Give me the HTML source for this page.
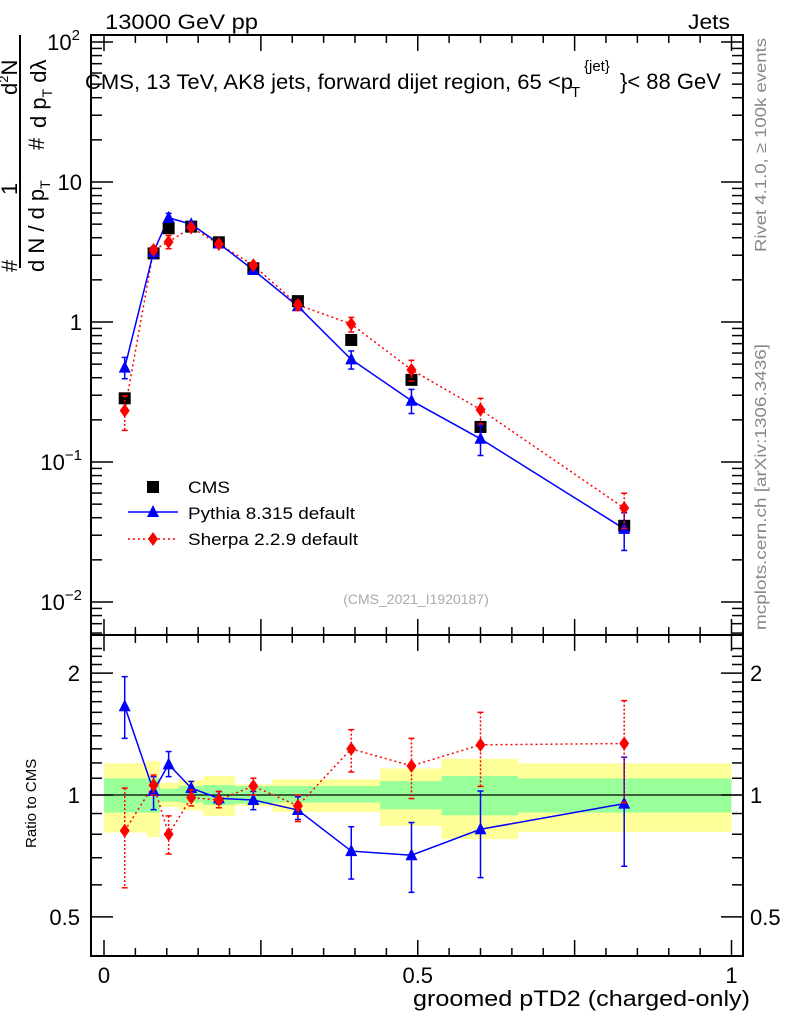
<!DOCTYPE html>
<html><head><meta charset="utf-8"><style>
body{margin:0;background:#fff;width:786px;height:1024px;overflow:hidden}
svg{font-family:"Liberation Sans",sans-serif}
</style></head><body>
<svg id="c" width="786" height="1024" xmlns="http://www.w3.org/2000/svg">
<text x="105" y="29" font-size="21" textLength="153" lengthAdjust="spacingAndGlyphs">13000 GeV pp</text>
<text x="688" y="29" font-size="21" textLength="42" lengthAdjust="spacingAndGlyphs">Jets</text>
<text x="85" y="89" font-size="21" textLength="488" lengthAdjust="spacingAndGlyphs">CMS, 13 TeV, AK8 jets, forward dijet region, 65 &lt;p</text>
<text x="571" y="97" font-size="15">T</text>
<text x="584" y="71" font-size="15">{jet}</text>
<text x="620" y="89" font-size="22">}&lt; 88 GeV</text>
<text transform="translate(766,252) rotate(-90)" font-size="16" fill="#888" textLength="214" lengthAdjust="spacingAndGlyphs">Rivet 4.1.0, ≥ 100k events</text>
<text transform="translate(766,630) rotate(-90)" font-size="16" fill="#888" textLength="286" lengthAdjust="spacingAndGlyphs">mcplots.cern.ch [arXiv:1306.3436]</text>
<text x="416" y="604" font-size="14" fill="#aaa" text-anchor="middle">(CMS_2021_I1920187)</text>
<text x="413" y="1006" font-size="22" textLength="337" lengthAdjust="spacingAndGlyphs">groomed pTD2 (charged-only)</text>
<text transform="translate(36,848) rotate(-90)" font-size="15">Ratio to CMS</text>
<g font-size="22">
<line x1="20" y1="268" x2="20" y2="35" stroke="#000" stroke-width="2"/>
<text transform="translate(17,272) rotate(-90)">#</text>
<text transform="translate(17,195) rotate(-90)">1</text>
<text transform="translate(44,272) rotate(-90)">d N / d p<tspan font-size="14" dy="6">T</tspan></text>
<text transform="translate(17,95) rotate(-90)">d<tspan font-size="13" dy="-9">2</tspan><tspan dy="9">N</tspan></text>
<text transform="translate(44,150) rotate(-90)">#</text>
<text transform="translate(46,128) rotate(-90)">d p<tspan font-size="14" dy="6">T</tspan><tspan dy="-6"> dλ</tspan></text>
</g>
<g id="main"></g>
<g id="ratio"></g>
</svg>
<script>
const xs=[0.033,0.079,0.103,0.139,0.183,0.238,0.309,0.394,0.490,0.600,0.829];
const cms=[0.285,3.09,4.67,4.8,3.71,2.42,1.41,0.744,0.386,0.178,0.035];
const pyR=[1.656,1.023,1.19,1.04,0.981,0.972,0.918,0.727,0.710,0.823,0.952];
const pyLo=[1.38,0.92,1.11,1.0,0.95,0.92,0.87,0.62,0.575,0.625,0.667];
const pyHi=[1.96,1.11,1.28,1.08,1.02,1.02,0.99,0.835,0.855,1.023,1.24];
const shR=[0.816,1.058,0.8,0.985,0.972,1.052,0.94,1.30,1.18,1.33,1.34];
const shLo=[0.59,1.0,0.715,0.94,0.93,1.0,0.86,1.14,0.98,1.05,0.957];
const shHi=[1.04,1.12,0.888,1.03,1.02,1.1,1.0,1.45,1.38,1.6,1.71];
const edges=[0,0.068,0.089,0.119,0.158,0.209,0.268,0.44,0.538,0.66,1.0];
const yelHi=[1.197,1.212,1.072,1.089,1.114,1.062,1.093,1.163,1.228,1.197];
const yelLo=[0.808,0.788,0.934,0.917,0.888,0.939,0.908,0.839,0.778,0.811];
const grnHi=[1.099,1.099,1.036,1.052,1.058,1.052,1.052,1.082,1.114,1.099];
const grnLo=[0.905,0.905,0.963,0.958,0.945,0.952,0.958,0.922,0.891,0.905];
const NS="http://www.w3.org/2000/svg";
const L=91,R=743,T=35,M=635,B=956;
const X=v=>104+v*627.5;
const Y=v=>322-140*Math.log10(v);
const YR=v=>795-405*Math.log10(v);
function mk(p,t,a){const e=document.createElementNS(NS,t);for(const k in a)e.setAttribute(k,a[k]);p.appendChild(e);return e;}
const main=document.getElementById('main'),ratio=document.getElementById('ratio');
for(let i=0;i<yelHi.length;i++){
 let r=mk(ratio,'rect',{x:X(edges[i]),y:YR(yelHi[i]),width:X(edges[i+1])-X(edges[i]),height:YR(yelLo[i])-YR(yelHi[i]),fill:'#ffff99'});
 
 
}
for(let i=0;i<grnHi.length;i++){
 let r=mk(ratio,'rect',{x:X(edges[i]),y:YR(grnHi[i]),width:X(edges[i+1])-X(edges[i]),height:YR(grnLo[i])-YR(grnHi[i]),fill:'#99ff99'});
 
 
}
mk(ratio,'line',{x1:L,x2:R,y1:YR(1),y2:YR(1),stroke:'#000','stroke-width':1.3});
mk(main,'rect',{x:L,y:T,width:R-L,height:M-T,fill:'none',stroke:'#000','stroke-width':2});
mk(ratio,'rect',{x:L,y:M,width:R-L,height:B-M,fill:'none',stroke:'#000','stroke-width':2});
for(let k=0;k<=20;k++){const v=k*0.05,x=X(v),len=k%5==0?16:8;
 mk(main,'line',{x1:x,x2:x,y1:T,y2:T+len,stroke:'#000','stroke-width':1.5});
 mk(main,'line',{x1:x,x2:x,y1:M,y2:M-len,stroke:'#000','stroke-width':1.5});
 mk(ratio,'line',{x1:x,x2:x,y1:M,y2:M+len,stroke:'#000','stroke-width':1.5});
 mk(ratio,'line',{x1:x,x2:x,y1:B,y2:B-len,stroke:'#000','stroke-width':1.5});}
const xl=[["0",0],["0.5",0.5],["1",1]];
xl.forEach(([t,v])=>{let e=mk(ratio,'text',{x:X(v),y:983,'font-size':22,'text-anchor':'middle'});e.textContent=t;
 
 });
for(let d=-3;d<=2;d++)for(let m=1;m<10;m++){const v=m*Math.pow(10,d),y=Y(v);if(y<T||y>M)continue;const len=m==1?22:11;
 mk(main,'line',{x1:L,x2:L+len,y1:y,y2:y,stroke:'#000','stroke-width':1.5});
 mk(main,'line',{x1:R,x2:R-len,y1:y,y2:y,stroke:'#000','stroke-width':1.5});}
const ylab=[[100,"10","2"],[10,"10",""],[1,"1",""],[0.1,"10","−1"],[0.01,"10","−2"]];
ylab.forEach(([v,b,s])=>{let e=mk(main,'text',{x:82,y:Y(v)+8,'font-size':22,'text-anchor':'end'});e.textContent=b;
 if(s){let t=mk(e,'tspan',{'font-size':15,dy:-10});t.textContent=s;e.setAttribute('x',s.length>1?82:80);}
 
 });
[0.5,0.6,0.7,0.8,0.9,1,1.1,1.2,1.3,1.4,1.5,1.6,1.7,1.8,1.9,2,2.1,2.2,2.3].forEach(v=>{const y=YR(v);if(y<M||y>B)return;const len=(v==0.5||v==1||v==2)?22:11;
 mk(ratio,'line',{x1:L,x2:L+len,y1:y,y2:y,stroke:'#000','stroke-width':1.5});
 mk(ratio,'line',{x1:R,x2:R-len,y1:y,y2:y,stroke:'#000','stroke-width':1.5});});
[["2",2],["1",1],["0.5",0.5]].forEach(([t,v])=>{[80,750].forEach(x=>{let e=mk(ratio,'text',{x:x,y:YR(v)+8,'font-size':22,'text-anchor':x<100?'end':'start'});e.textContent=t;
 
 });});
function tri(p,x,y,c){return mk(p,'polygon',{points:`${x},${y-7} ${x-6},${y+5} ${x+6},${y+5}`,fill:c});}
function dia(p,x,y,c){return mk(p,'polygon',{points:`${x},${y-7} ${x+5},${y} ${x},${y+7} ${x-5},${y}`,fill:c});}
function errbar(p,x,y1,y2,c,dash){mk(p,'line',{x1:x,x2:x,y1:y1,y2:y2,stroke:c,'stroke-width':1.5,'stroke-dasharray':dash||''});
 mk(p,'line',{x1:x-3,x2:x+3,y1:y1,y2:y1,stroke:c,'stroke-width':1.5});mk(p,'line',{x1:x-3,x2:x+3,y1:y2,y2:y2,stroke:c,'stroke-width':1.5});}
const py=cms.map((c,i)=>c*pyR[i]),sh=cms.map((c,i)=>c*shR[i]);
let pl=mk(main,'polyline',{points:xs.map((x,i)=>X(x)+','+Y(sh[i])).join(' '),fill:'none',stroke:'#f00','stroke-width':1.5,'stroke-dasharray':'2,3'});


pl=mk(main,'polyline',{points:xs.map((x,i)=>X(x)+','+Y(py[i])).join(' '),fill:'none',stroke:'#00f','stroke-width':1.5});


xs.forEach((x,i)=>{
 let s=mk(main,'rect',{x:X(x)-6,y:Y(cms[i])-6,width:12,height:12,fill:'#000'});
 
 
 errbar(main,X(x),Y(cms[i]*pyHi[i]),Y(cms[i]*pyLo[i]),'#00f');
 let t=tri(main,X(x),Y(py[i]),'#00f');
 
 
 errbar(main,X(x),Y(cms[i]*shHi[i]),Y(cms[i]*shLo[i]),'#f00','2,2');
 let d=dia(main,X(x),Y(sh[i]),'#f00');
 
 
});
pl=mk(ratio,'polyline',{points:xs.map((x,i)=>X(x)+','+YR(shR[i])).join(' '),fill:'none',stroke:'#f00','stroke-width':1.5,'stroke-dasharray':'2,3'});


pl=mk(ratio,'polyline',{points:xs.map((x,i)=>X(x)+','+YR(pyR[i])).join(' '),fill:'none',stroke:'#00f','stroke-width':1.5});


xs.forEach((x,i)=>{
 errbar(ratio,X(x),YR(pyHi[i]),YR(pyLo[i]),'#00f');
 let t=tri(ratio,X(x),YR(pyR[i]),'#00f');
 
 
 errbar(ratio,X(x),YR(shHi[i]),YR(shLo[i]),'#f00','2,2');
 let d=dia(ratio,X(x),YR(shR[i]),'#f00');
 
 
});
const lg=mk(main,'g',{});


mk(lg,'rect',{x:147,y:481,width:12,height:12,fill:'#000'});
mk(lg,'line',{x1:128,x2:178,y1:512,y2:512,stroke:'#00f','stroke-width':1.5});tri(lg,153,512,'#00f');
mk(lg,'line',{x1:128,x2:178,y1:539,y2:539,stroke:'#f00','stroke-width':1.5,'stroke-dasharray':'2,3'});dia(lg,153,539,'#f00');
[["CMS",493,42],["Pythia 8.315 default",519,167],["Sherpa 2.2.9 default",545,170]].forEach(([t,y,w])=>{let e=mk(lg,'text',{x:188,y:y,'font-size':17,textLength:w,lengthAdjust:'spacingAndGlyphs'});e.textContent=t;
 
 });
</script>
</body></html>
